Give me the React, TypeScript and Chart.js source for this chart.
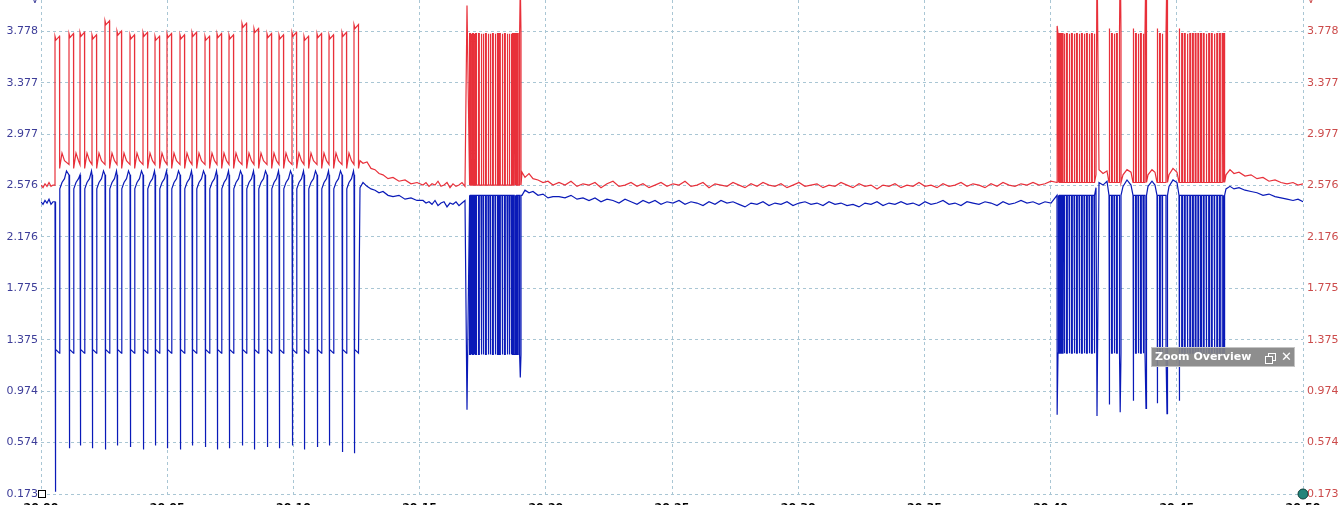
import React, { useEffect, useRef } from "react";
import { Chart, registerables } from "chart.js";

Chart.register(...registerables);

// ---------- axes ----------
const X_MIN = 0;
const X_MAX = 1262;
const Y_MIN = 0.173;
const Y_MAX = 4.022;
const xTickValues = [0, 126.2, 252.4, 378.6, 504.8, 631, 757.2, 883.4, 1009.6, 1135.8, 1262];
const xTickLabels = ["20.00", "20.05", "20.10", "20.15", "20.20", "20.25", "20.30", "20.35", "20.40", "20.45", "20.50"];
const yTickValues = [0.173, 0.5735, 0.974, 1.3745, 1.775, 2.1755, 2.576, 2.9765, 3.377, 3.7775];
const yTickLabels = ["0.173", "0.574", "0.974", "1.375", "1.775", "2.176", "2.576", "2.977", "3.377", "3.778"];

// ---------- data (x = sample index, y = volts) ----------
// lead-in (x 0..12, step 2)
const redLead = [2.58, 2.56, 2.59, 2.57, 2.6, 2.57, 2.58];
const blueLead = [2.45, 2.43, 2.46, 2.44, 2.47, 2.43, 2.45];

// burst 1: regular frames
const burst1Starts = [14, 28, 39, 51, 64, 76, 89, 102, 114, 126, 139, 151, 164, 176, 188, 201, 213, 226, 238, 251, 263, 276, 288, 301, 313];
const burst1Width = 4.5;
const burst1RedHigh = [3.74, 3.76, 3.77, 3.75, 3.86, 3.78, 3.75, 3.77, 3.74, 3.76, 3.75, 3.77, 3.74, 3.76, 3.75, 3.84, 3.8, 3.76, 3.75, 3.77, 3.74, 3.76, 3.75, 3.77, 3.83];
const burst1BlueDip = [0.19, 0.53, 0.55, 0.53, 0.52, 0.55, 0.54, 0.52, 0.55, 0.53, 0.52, 0.55, 0.54, 0.52, 0.53, 0.55, 0.52, 0.54, 0.53, 0.55, 0.52, 0.54, 0.55, 0.5, 0.49];
const burst1BlueLow = 1.28;
const burst1RedGap = [[0.3, 2.71], [2.5, 2.83], [5, 2.77]];
const burst1BlueGap = [[0.3, 2.55], [2.5, 2.6], [5, 2.63], [7, 2.69]];

const redTail1 = [[319, 2.77], [322, 2.75], [326, 2.76], [330, 2.71], [334, 2.7], [338, 2.67], [342, 2.66], [347, 2.63], [352, 2.64], [358, 2.61], [364, 2.62], [370, 2.59], [376, 2.6]];
const blueTail1 = [[319, 2.56], [322, 2.6], [326, 2.57], [330, 2.55], [334, 2.54], [338, 2.52], [342, 2.53], [347, 2.5], [352, 2.49], [358, 2.5], [364, 2.47], [370, 2.48], [376, 2.46]];

// quiet 1 (x 382.., step 3)
const redQuiet1 = [2.58, 2.6, 2.57, 2.59, 2.58, 2.61, 2.57, 2.58, 2.6, 2.56, 2.59, 2.57, 2.58, 2.6, 2.57];
const blueQuiet1 = [2.46, 2.44, 2.45, 2.43, 2.46, 2.42, 2.44, 2.45, 2.41, 2.44, 2.43, 2.45, 2.42, 2.44, 2.46];

// burst 2
const burst2Pulses = [
  [428.6, 429.4], [430.1, 430.9], [431.6, 432.4], [433.1, 433.9], [434.6, 435.4], [437.5, 438.3], [440, 440.8], [442, 442.8],
  [444.5, 445.3], [447, 447.8], [449, 449.8], [451.5, 452.3], [454, 454.8], [456.5, 457.3], [458.5, 459.3], [461, 461.8],
  [463.5, 464.3], [466, 466.8], [468, 468.8], [470, 470.8], [471.6, 472.4], [473.2, 474], [474.8, 475.6], [476.4, 477.2], [478.6, 480],
];
const burst2Spikes = [[426, 3.98, 0.83], [479.3, 4.15, 1.08]]; // x, red peak, blue dip
const redTail2 = [[481, 2.68], [484, 2.64], [488, 2.67], [492, 2.63], [497, 2.62], [502, 2.6], [507, 2.61], [512, 2.58]];
const blueTail2 = [[481, 2.5], [484, 2.54], [488, 2.52], [492, 2.53], [497, 2.5], [502, 2.51], [507, 2.48], [512, 2.49]];

// quiet 2 (x 518.., step 6)
const redQuiet2 = [
  2.6, 2.58, 2.61, 2.57, 2.59, 2.58, 2.6, 2.56, 2.59, 2.61,
  2.57, 2.58, 2.6, 2.57, 2.59, 2.56, 2.58, 2.6, 2.57, 2.59,
  2.58, 2.61, 2.57, 2.58, 2.6, 2.56, 2.59, 2.58, 2.57, 2.6,
  2.58, 2.56, 2.59, 2.57, 2.6, 2.58, 2.57, 2.59, 2.56, 2.58,
  2.6, 2.57, 2.58, 2.59, 2.56, 2.58, 2.57, 2.6, 2.58, 2.56,
  2.59, 2.57, 2.58, 2.55, 2.58, 2.57, 2.59, 2.56, 2.58, 2.57,
  2.6, 2.57, 2.58, 2.56, 2.59, 2.57, 2.58, 2.6, 2.57, 2.59,
  2.58, 2.56, 2.59, 2.57, 2.6, 2.58, 2.57, 2.59, 2.58, 2.6,
  2.58, 2.59, 2.61,
];
const blueQuiet2 = [
  2.49, 2.48, 2.5, 2.47, 2.48, 2.46, 2.48, 2.45, 2.47, 2.46,
  2.44, 2.47, 2.45, 2.43, 2.46, 2.44, 2.46, 2.43, 2.45, 2.44,
  2.46, 2.43, 2.45, 2.44, 2.42, 2.45, 2.43, 2.46, 2.44, 2.45,
  2.43, 2.41, 2.44, 2.43, 2.45, 2.42, 2.44, 2.43, 2.45, 2.42,
  2.44, 2.45, 2.43, 2.44, 2.42, 2.45, 2.43, 2.44, 2.42, 2.43,
  2.41, 2.44, 2.43, 2.45, 2.42, 2.44, 2.43, 2.45, 2.43, 2.44,
  2.42, 2.45, 2.43, 2.44, 2.46, 2.43, 2.44, 2.42, 2.45, 2.44,
  2.43, 2.45, 2.44, 2.42, 2.45, 2.43, 2.44, 2.46, 2.44, 2.45,
  2.43, 2.45, 2.44,
];

// burst 3
const burst3Pulses = [
  [1016, 1017], [1017.8, 1018.6], [1019.5, 1020.3], [1021.2, 1022], [1023, 1023.8], [1025.5, 1026.3], [1028, 1028.8], [1030.5, 1031.3],
  [1033, 1033.8], [1035.5, 1036.3], [1038, 1038.8], [1040.5, 1041.3], [1043, 1043.8], [1045.5, 1046.3], [1048, 1048.8], [1050.5, 1051.3], [1053, 1053.8],
  [1068, 1068.8], [1070.5, 1071.3], [1073, 1073.8], [1075.5, 1076.3], [1078.5, 1080],
  [1092, 1092.8], [1094.5, 1095.3], [1097, 1097.8], [1099.5, 1100.3], [1102, 1102.8], [1104, 1105.5],
  [1116, 1116.8], [1118.5, 1119.3], [1121, 1121.8], [1125, 1126.5],
  [1138, 1138.8], [1140.7, 1141.5], [1143.4, 1144.2], [1146.1, 1146.9], [1148.8, 1149.6], [1151.5, 1152.3], [1154.2, 1155],
  [1156.9, 1157.7], [1159.6, 1160.4], [1162.3, 1163.1], [1165, 1165.8], [1167.7, 1168.5], [1170.4, 1171.2], [1173.1, 1173.9],
  [1175.8, 1176.6], [1178.5, 1179.3], [1181.2, 1182], [1182.8, 1183.6],
];
const burst3Spikes = [[1016.3, 3.82, 0.79], [1056, 4.4, 0.78], [1068.3, 3.8, 0.87], [1079.2, 4.4, 0.81], [1092.3, 3.8, 0.9], [1105, 4.4, 0.84], [1116.3, 3.8, 0.88], [1126, 4.3, 0.8], [1138.3, 3.8, 0.9]];
const redGap3 = [[1055, 2.66], [1058, 2.7], [1062, 2.67], [1066, 2.69], [1082, 2.66], [1086, 2.7], [1090, 2.68], [1107, 2.66], [1111, 2.7], [1114, 2.68], [1128, 2.66], [1132, 2.71], [1136, 2.68]];
const blueGap3 = [[1055, 2.56], [1058, 2.6], [1062, 2.58], [1066, 2.61], [1082, 2.57], [1086, 2.62], [1090, 2.58], [1107, 2.57], [1111, 2.61], [1114, 2.58], [1128, 2.57], [1132, 2.62], [1136, 2.6]];
const redTail3 = [[1185, 2.66], [1189, 2.7], [1193, 2.67], [1198, 2.68], [1204, 2.65], [1210, 2.66], [1216, 2.63], [1222, 2.64], [1228, 2.61], [1234, 2.62], [1240, 2.6], [1246, 2.59], [1252, 2.6], [1257, 2.58], [1262, 2.59]];
const blueTail3 = [[1185, 2.55], [1189, 2.57], [1193, 2.55], [1198, 2.56], [1204, 2.54], [1210, 2.53], [1216, 2.52], [1222, 2.5], [1228, 2.51], [1234, 2.49], [1240, 2.48], [1246, 2.47], [1252, 2.46], [1257, 2.47], [1262, 2.45]];

const RED_HIGH = 3.76;
const RED_BASE = 2.6;
const BLUE_LOW = 1.27;
const BLUE_BASE = 2.5;

// ---------- builders ----------
type Pt = { x: number; y: number };
const sampled = (x0: number, step: number, vals: number[]): Pt[] => vals.map((y, i) => ({ x: x0 + i * step, y }));
const pairs = (arr: number[][]): Pt[] => arr.map(([x, y]) => ({ x, y }));

function redTrain(): Pt[] {
  const out: Pt[] = [];
  burst1Starts.forEach((a, i) => {
    const b = a + burst1Width;
    const pre = i === 0 ? redLead[redLead.length - 1] : 2.74;
    out.push({ x: a, y: pre }, { x: a, y: burst1RedHigh[i] }, { x: a + 1, y: burst1RedHigh[i] - 0.03 }, { x: b, y: burst1RedHigh[i] }, { x: b, y: 2.71 });
    if (i < burst1Starts.length - 1) {
      burst1RedGap.forEach(([dx, y]) => {
        if (b + dx < burst1Starts[i + 1]) out.push({ x: b + dx, y });
      });
    }
  });
  return out;
}

function blueTrain(): Pt[] {
  const out: Pt[] = [];
  burst1Starts.forEach((a, i) => {
    const b = a + burst1Width;
    const pre = i === 0 ? blueLead[blueLead.length - 1] : 2.66;
    out.push({ x: a, y: pre }, { x: a + 0.3, y: burst1BlueDip[i] }, { x: a + 0.8, y: burst1BlueLow + 0.02 }, { x: b, y: burst1BlueLow - 0.01 });
    if (i < burst1Starts.length - 1) {
      burst1BlueGap.forEach(([dx, y]) => {
        if (b + dx < burst1Starts[i + 1]) out.push({ x: b + dx, y });
      });
    }
  });
  return out;
}

function blockTrace(pulses: number[][], level: number, base: number, spikes: number[][], col: number, knots: number[][]): Pt[] {
  const pts: Pt[] = [];
  pulses.forEach(([a, b]) => pts.push({ x: a, y: base }, { x: a, y: level }, { x: b, y: level }, { x: b, y: base }));
  spikes.forEach((s) => pts.push({ x: s[0], y: s[col] }));
  knots.forEach(([x, y]) => pts.push({ x, y }));
  return pts.sort((p, q) => p.x - q.x);
}

const redData: Pt[] = [
  ...sampled(0, 2, redLead),
  ...redTrain(),
  ...pairs(redTail1),
  ...sampled(382, 3, redQuiet1),
  ...blockTrace(burst2Pulses, RED_HIGH, 2.58, burst2Spikes, 1, []),
  ...pairs(redTail2),
  ...sampled(518, 6, redQuiet2),
  ...blockTrace(burst3Pulses, RED_HIGH, RED_BASE, burst3Spikes, 1, redGap3),
  ...pairs(redTail3),
];

const blueData: Pt[] = [
  ...sampled(0, 2, blueLead),
  ...blueTrain(),
  ...pairs(blueTail1),
  ...sampled(382, 3, blueQuiet1),
  ...blockTrace(burst2Pulses, 1.26, BLUE_BASE, burst2Spikes, 2, []),
  ...pairs(blueTail2),
  ...sampled(518, 6, blueQuiet2),
  ...blockTrace(burst3Pulses, BLUE_LOW, BLUE_BASE, burst3Spikes, 2, blueGap3),
  ...pairs(blueTail3),
];

// ---------- styles ----------
const RED = "#e8303a";
const BLUE = "#0a1ab8";
const GRID = "#a9c6d4";
const LEFT_TXT = "#3d3d99";
const RIGHT_TXT = "#cc4b4b";
const FONT = "DejaVu Sans";

const decorations = {
  id: "decorations",
  afterDraw(chart: any) {
    const { ctx, chartArea } = chart;
    const { left, right, bottom } = chartArea;
    ctx.save();
    ctx.fillStyle = "#ffffff";
    ctx.strokeStyle = "#000000";
    ctx.lineWidth = 1;
    ctx.fillRect(left - 2.5, bottom - 3.5, 7, 7);
    ctx.strokeRect(left - 2.5, bottom - 3.5, 7, 7);
    ctx.beginPath();
    ctx.arc(right, bottom, 5, 0, Math.PI * 2);
    ctx.fillStyle = "#23857b";
    ctx.fill();
    ctx.strokeStyle = "#0e3e39";
    ctx.stroke();
    ctx.font = `10px "${FONT}"`;
    ctx.textAlign = "center";
    ctx.textBaseline = "alphabetic";
    ctx.fillStyle = LEFT_TXT;
    ctx.fillText("V", left - 6, 3);
    ctx.fillStyle = RIGHT_TXT;
    ctx.fillText("V", right + 8, 3);
    ctx.restore();
  },
};

function yAxis(position: "left" | "right", color: string, showGrid: boolean) {
  return {
    type: "linear" as const,
    position,
    min: Y_MIN,
    max: Y_MAX,
    afterBuildTicks: (s: any) => {
      s.ticks = yTickValues.map((v) => ({ value: v }));
    },
    afterFit: (s: any) => {
      s.width = 41;
      s.paddingTop = 0;
      s.paddingBottom = 0;
    },
    ticks: {
      autoSkip: false,
      padding: position === "left" ? 3 : 4,
      color,
      font: { family: FONT, size: 11 },
      callback: (_v: any, i: number) => yTickLabels[i],
    },
    grid: { display: showGrid, color: GRID, drawTicks: false, lineWidth: 1 },
    border: { display: false, dash: [3, 3] },
  };
}

export default function App() {
  const ref = useRef<HTMLCanvasElement | null>(null);

  useEffect(() => {
    document.body.style.margin = "0";
    document.body.style.overflow = "hidden";
    document.documentElement.style.overflow = "hidden";
    const canvas = ref.current;
    if (!canvas) return;
    const chart = new Chart(canvas, {
      type: "line",
      data: {
        datasets: [
          { data: redData, borderColor: RED, borderWidth: 1.2, pointRadius: 0, tension: 0, fill: false },
          { data: blueData, borderColor: BLUE, borderWidth: 1.2, pointRadius: 0, tension: 0, fill: false },
        ],
      },
      options: {
        animation: false,
        responsive: false,
        maintainAspectRatio: false,
        layout: { padding: 0 },
        plugins: { legend: { display: false }, tooltip: { enabled: false } },
        scales: {
          x: {
            type: "linear",
            min: X_MIN,
            max: X_MAX,
            afterBuildTicks: (s: any) => {
              s.ticks = xTickValues.map((v) => ({ value: v }));
            },
            afterFit: (s: any) => {
              s.height = 26;
              s.paddingLeft = 0;
              s.paddingRight = 0;
            },
            ticks: {
              autoSkip: false,
              maxRotation: 0,
              padding: 8,
              color: "#000000",
              font: { family: FONT, size: 11, weight: "bold" },
              callback: (_v: any, i: number) => xTickLabels[i],
            },
            grid: { color: GRID, drawTicks: false, lineWidth: 1 },
            border: { display: false, dash: [3, 3] },
          },
          y: yAxis("left", LEFT_TXT, true) as any,
          y2: yAxis("right", RIGHT_TXT, false) as any,
        },
      },
      plugins: [decorations],
    });
    return () => chart.destroy();
  }, []);

  return (
    <div style={{ position: "relative", width: 1344, height: 505, overflow: "hidden", background: "#fff" }}>
      <canvas ref={ref} width={1344} height={520} style={{ position: "absolute", left: 0, top: 0, width: 1344, height: 520 }} />
      <div
        style={{
          position: "absolute",
          left: 1151,
          top: 347,
          width: 144,
          height: 20,
          boxSizing: "border-box",
          background: "rgba(132,132,132,0.92)",
          border: "1px solid #c4c4c4",
          color: "#ffffff",
          fontFamily: FONT,
          fontWeight: "bold",
          fontSize: 11,
          lineHeight: "18px",
        }}
      >
        <span style={{ position: "absolute", left: 3, top: 0 }}>Zoom Overview</span>
        <div style={{ position: "absolute", left: 116, top: 5, width: 6, height: 6, border: "1px solid #fff" }} />
        <div style={{ position: "absolute", left: 113, top: 8, width: 6, height: 6, border: "1px solid #fff", background: "rgba(132,132,132,1)" }} />
        <span style={{ position: "absolute", left: 129, top: 0, fontSize: 13, fontWeight: "normal" }}>✕</span>
      </div>
    </div>
  );
}
